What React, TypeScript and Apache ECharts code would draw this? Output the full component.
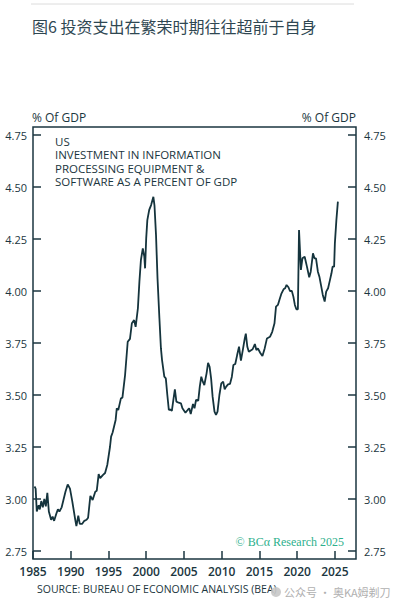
import React, { useEffect, useRef } from "react";
import * as echarts from "echarts";

const years: number[] = [
  1985.2, 1985.35, 1985.5, 1985.75, 1985.9, 1986.1, 1986.3, 1986.5, 1986.7, 1986.9,
  1987.1, 1987.4, 1987.6, 1987.8, 1988.1, 1988.3, 1988.5, 1988.8, 1989.3, 1989.6,
  1989.9, 1990.2, 1990.6, 1990.75, 1991.0, 1991.2, 1991.5, 1991.8, 1992.1, 1992.3,
  1992.6, 1992.9, 1993.25, 1993.45, 1993.7, 1993.9, 1994.25, 1994.55, 1994.85, 1995.2,
  1995.35, 1995.55, 1995.75, 1995.95, 1996.1, 1996.3, 1996.65, 1996.85, 1997.2, 1997.55,
  1997.85, 1998.1, 1998.4, 1998.6, 1998.9, 1999.1, 1999.3, 1999.55, 1999.75, 1999.85,
  2000.0, 2000.15, 2000.4, 2000.65, 2000.95, 2001.1, 2001.3, 2001.5, 2001.75, 2001.95,
  2002.1, 2002.4, 2002.6, 2002.8, 2003.0, 2003.2, 2003.4, 2003.6, 2003.8, 2004.0,
  2004.3, 2004.6, 2004.8, 2005.2, 2005.5, 2005.7, 2005.9, 2006.2, 2006.4, 2006.6,
  2006.9, 2007.1, 2007.3, 2007.5, 2007.7, 2008.0, 2008.2, 2008.4, 2008.6, 2008.8,
  2009.05, 2009.25, 2009.45, 2009.7, 2009.95, 2010.2, 2010.4, 2010.6, 2010.85, 2011.1,
  2011.35, 2011.55, 2011.8, 2012.05, 2012.3, 2012.55, 2012.8, 2013.05, 2013.2, 2013.4,
  2013.6, 2013.8, 2014.1, 2014.4, 2014.6, 2014.8, 2015.1, 2015.4, 2015.7, 2016.0,
  2016.4, 2016.7, 2017.0, 2017.2, 2017.45, 2017.65, 2017.9, 2018.2, 2018.4, 2018.6,
  2018.85, 2019.05, 2019.3, 2019.5, 2019.7, 2019.9, 2020.1, 2020.25, 2020.5, 2020.7,
  2021.0, 2021.3, 2021.6, 2021.8, 2022.1, 2022.3, 2022.5, 2022.75, 2022.95, 2023.2,
  2023.4, 2023.65, 2023.85, 2024.1, 2024.3, 2024.55, 2024.7, 2024.9, 2025.0, 2025.2,
  2025.4,
];

const investPct: number[] = [
  3.06, 3.05, 2.94, 2.97, 2.95, 2.99, 2.96, 3.0, 2.965, 3.03,
  2.94, 2.9, 2.915, 2.895, 2.93, 2.95, 2.94, 2.96, 3.035, 3.07,
  3.05, 2.99, 2.9, 2.87, 2.92, 2.88, 2.88, 2.895, 2.9, 2.91,
  3.015, 2.995, 3.035, 3.04, 3.12, 3.1, 3.115, 3.125, 3.165, 3.25,
  3.3, 3.32, 3.35, 3.38, 3.436, 3.428, 3.484, 3.487, 3.596, 3.756,
  3.77, 3.845, 3.86, 3.828, 3.917, 4.045, 4.149, 4.205, 4.165, 4.109,
  4.253, 4.341, 4.39, 4.413, 4.453, 4.41, 4.27, 4.06, 3.869, 3.725,
  3.668, 3.588, 3.58, 3.5, 3.428, 3.43, 3.424, 3.476, 3.527, 3.468,
  3.463, 3.46, 3.436, 3.415, 3.428, 3.436, 3.409, 3.457, 3.436, 3.476,
  3.473, 3.54, 3.588, 3.564, 3.548, 3.604, 3.655, 3.636, 3.58, 3.492,
  3.42, 3.404, 3.42, 3.5, 3.556, 3.564, 3.527, 3.54, 3.551, 3.553,
  3.588, 3.644, 3.649, 3.692, 3.732, 3.665, 3.716, 3.77, 3.795, 3.732,
  3.708, 3.713, 3.72, 3.745, 3.716, 3.724, 3.703, 3.687, 3.724, 3.772,
  3.78, 3.804, 3.845, 3.925, 3.933, 3.957, 3.986, 4.008, 4.013, 4.029,
  4.018, 4.0, 4.0, 3.973, 3.933, 3.912, 3.912, 4.293, 4.101, 4.157,
  4.165, 4.117, 4.066, 4.093, 4.181, 4.157, 4.157, 4.093, 4.069, 4.021,
  3.981, 3.949, 3.997, 4.013, 4.045, 4.085, 4.117, 4.117, 4.229, 4.341,
  4.43,
];

const yTicks = { min: 2.75, max: 4.75, interval: 0.25 };
const xTicks = { min: 1985, max: 2027.8, interval: 5 };

const titleText = "图6 投资支出在繁荣时期往往超前于自身";
const noteLines = [
  "US",
  "INVESTMENT IN INFORMATION",
  "PROCESSING EQUIPMENT &",
  "SOFTWARE AS A PERCENT OF GDP",
];
const unitLabel = "% Of GDP";
const sourceText = "SOURCE: BUREAU OF ECONOMIC ANALYSIS (BEA)";
const creditText = "© BCα Research 2025";
const watermarkText = "公众号 · 奥KA姆剃刀";

const INK = "#1b3640";
const SANS = "'Open Sans', 'Noto Sans', sans-serif";

export default function App() {
  const ref = useRef<HTMLDivElement>(null);

  useEffect(() => {
    document.body.style.margin = "0";
    if (!ref.current) return;
    const chart = echarts.init(ref.current, undefined, { renderer: "svg" });
    const data = years.map((y, i) => [y, investPct[i]]);

    const yAxisCommon = {
      type: "value",
      min: yTicks.min,
      max: yTicks.max,
      interval: yTicks.interval,
      axisLine: { show: false },
      axisTick: { show: true, inside: true, length: 8, lineStyle: { color: INK, width: 1.5 } },
      splitLine: { show: false },
    };

    const noteTexts = noteLines.map((line, i) => ({
      type: "text",
      x: 55,
      y: 141 + i * 13.5,
      style: {
        text: line,
        fill: INK,
        font: `11.5px ${SANS}`,
        align: "left",
        verticalAlign: "middle",
      },
    }));

    chart.setOption({
      animation: false,
      backgroundColor: "#ffffff",
      grid: { left: 33, right: 39, top: 135, bottom: 59 },
      xAxis: {
        type: "value",
        min: xTicks.min,
        max: xTicks.max,
        interval: xTicks.interval,
        offset: 8,
        axisLine: { show: false },
        axisTick: { show: true, inside: true, length: 8, lineStyle: { color: INK, width: 1.5 } },
        splitLine: { show: false },
        axisLabel: {
          showMaxLabel: false,
          margin: 6,
          color: INK,
          fontFamily: SANS,
          fontSize: 12,
          fontWeight: 600,
          formatter: (v: number) => (Math.abs(v % 5) < 1e-6 ? String(v) : ""),
        },
      },
      yAxis: [
        {
          ...yAxisCommon,
          position: "left",
          axisLabel: {
            margin: 6,
            color: INK,
            fontFamily: SANS,
            fontSize: 11,
            formatter: (v: number) => v.toFixed(2),
          },
        },
        {
          ...yAxisCommon,
          position: "right",
          axisLabel: {
            margin: 8,
            color: INK,
            fontFamily: SANS,
            fontSize: 11,
            formatter: (v: number) => v.toFixed(2),
          },
        },
      ],
      series: [
        {
          type: "line",
          data,
          yAxisIndex: 0,
          showSymbol: false,
          lineStyle: { color: "#15343d", width: 1.8 },
        },
      ],
      graphic: [
        {
          type: "line",
          shape: { x1: 31, y1: 4, x2: 354, y2: 4 },
          style: { stroke: "#dcdcdc", lineWidth: 1 },
        },
        {
          type: "text",
          x: 32,
          y: 26,
          style: {
            text: titleText,
            fill: "#2f4752",
            font: "16px 'Noto Sans CJK SC', sans-serif",
            align: "left",
            verticalAlign: "middle",
          },
        },
        {
          type: "rect",
          shape: { x: 33, y: 127, width: 323, height: 432 },
          style: { fill: "none", stroke: INK, lineWidth: 1.5 },
          z: 10,
        },
        {
          type: "text",
          x: 32,
          y: 117,
          style: { text: unitLabel, fill: INK, font: `12px ${SANS}`, align: "left", verticalAlign: "middle" },
        },
        {
          type: "text",
          x: 356,
          y: 117,
          style: { text: unitLabel, fill: INK, font: `12px ${SANS}`, align: "right", verticalAlign: "middle" },
        },
        ...noteTexts,
        {
          type: "text",
          x: 344,
          y: 542,
          style: {
            text: creditText,
            fill: "#2db08c",
            font: "12px 'Liberation Serif', 'DejaVu Serif', serif",
            align: "right",
            verticalAlign: "middle",
          },
        },
        {
          type: "text",
          x: 37,
          y: 589,
          style: { text: sourceText, fill: INK, font: `10.5px ${SANS}`, align: "left", verticalAlign: "middle" },
        },
        {
          type: "circle",
          shape: { cx: 276, cy: 592, r: 5 },
          style: { fill: "#c8c8c8", opacity: 0.9 },
        },
        {
          type: "text",
          x: 284,
          y: 592,
          style: {
            text: watermarkText,
            fill: "#b0b0b0",
            font: "11px 'Noto Sans CJK SC', sans-serif",
            align: "left",
            verticalAlign: "middle",
          },
        },
      ],
    });

    return () => chart.dispose();
  }, []);

  return (
    <div
      ref={ref}
      style={{ position: "absolute", left: 0, top: 0, width: 395, height: 610 }}
    />
  );
}
